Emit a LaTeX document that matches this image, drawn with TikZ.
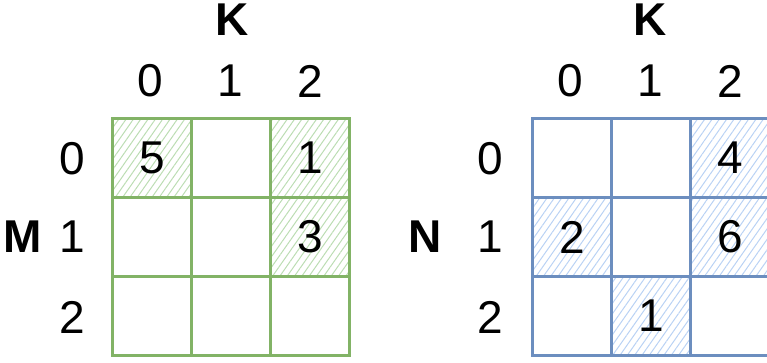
\documentclass[tikz,border=0pt]{standalone}
\usepackage{fontspec}
\setmainfont{Liberation Sans}
\usetikzlibrary{patterns.meta}
\definecolor{gstroke}{HTML}{82B366}
\definecolor{gfill}{HTML}{BCDDB3}
\definecolor{bstroke}{HTML}{6C8EBF}
\definecolor{bfill}{HTML}{B9D2F4}
\tikzset{
  cell/.style={minimum size=79pt, inner sep=0pt, line width=2.4pt, font=\fontsize{46}{46}\selectfont},
  gcell/.style={cell, draw=gstroke},
  bcell/.style={cell, draw=bstroke},
  ghatch/.style={pattern={Lines[angle=55,distance=6pt,line width=1pt]}, pattern color=gfill},
  bhatch/.style={pattern={Lines[angle=55,distance=6pt,line width=1pt]}, pattern color=bfill},
  lbl/.style={font=\fontsize{46}{46}\selectfont, inner sep=0pt},
  axis/.style={font=\bfseries\fontsize{46}{46}\selectfont, inner sep=0pt},
  rough/.style={line width=1pt, shift={(1.2,-1)}}
}
\begin{document}
\begin{tikzpicture}[x=1pt,y=-1pt]
\useasboundingbox (0,0) rectangle (767,362);
% left grid
\node[gcell,ghatch] (L00) at (152,158) {5};
\node[gcell] (L01) at (231,158) {};
\node[gcell,ghatch] (L02) at (310,158) {1};
\node[gcell] (L10) at (152,237) {};
\node[gcell] (L11) at (231,237) {};
\node[gcell,ghatch] (L12) at (310,237) {3};
\node[gcell] (L20) at (152,316) {};
\node[gcell] (L21) at (231,316) {};
\node[gcell] (L22) at (310,316) {};
\foreach \c in {L00,L01,L02,L10,L11,L12,L20,L21,L22}
  \draw[gstroke,rough] ([xshift=1pt,yshift=-1pt]\c.north west) rectangle ([xshift=-1pt,yshift=1pt]\c.south east);
% left labels
\node[axis] (KL) at (232,20) {K};
\node[lbl] (LC0) at (150,81) {0};
\node[lbl] (LC1) at (230,81) {1};
\node[lbl] (LC2) at (310,81) {2};
\node[lbl] (LR0) at (72,159) {0};
\node[lbl] (LR1) at (72,237) {1};
\node[lbl] (LR2) at (72,317) {2};
\node[axis] (M) at (23,237) {M};
% right grid
\node[bcell] (R00) at (572,158) {};
\node[bcell] (R01) at (651,158) {};
\node[bcell,bhatch] (R02) at (730,158) {4};
\node[bcell,bhatch] (R10) at (572,237) {2};
\node[bcell] (R11) at (651,237) {};
\node[bcell,bhatch] (R12) at (730,237) {6};
\node[bcell] (R20) at (572,316) {};
\node[bcell,bhatch] (R21) at (651,316) {1};
\node[bcell] (R22) at (730,316) {};
\foreach \c in {R00,R01,R02,R10,R11,R12,R20,R21,R22}
  \draw[bstroke,rough] ([xshift=1pt,yshift=-1pt]\c.north west) rectangle ([xshift=-1pt,yshift=1pt]\c.south east);
% right labels
\node[axis] (KR) at (650,20) {K};
\node[lbl] (RC0) at (570,81) {0};
\node[lbl] (RC1) at (650,81) {1};
\node[lbl] (RC2) at (730,81) {2};
\node[lbl] (RR0) at (490,159) {0};
\node[lbl] (RR1) at (490,237) {1};
\node[lbl] (RR2) at (490,317) {2};
\node[axis] (N) at (425,237) {N};
\end{tikzpicture}
\end{document}
